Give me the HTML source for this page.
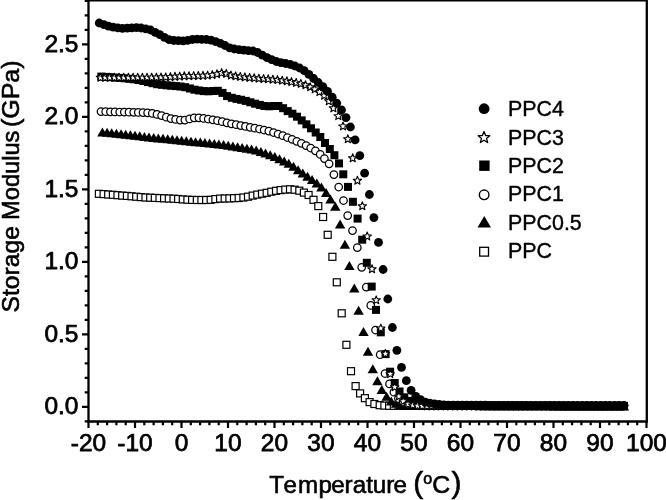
<!DOCTYPE html>
<html><head><meta charset="utf-8"><title>Storage Modulus vs Temperature</title>
<style>html,body{margin:0;padding:0;background:#fff}body{width:666px;height:500px;overflow:hidden}svg{display:block}</style>
</head><body>
<svg width="666" height="500" viewBox="0 0 666 500">
<rect width="666" height="500" fill="#fff"/>
<g fill="#fff" stroke="#000" stroke-width="1.2">
<rect x="95.4" y="190.3" width="7.0" height="7.0"/>
<rect x="100.1" y="190.6" width="7.0" height="7.0"/>
<rect x="104.7" y="191" width="7.0" height="7.0"/>
<rect x="109.4" y="191.3" width="7.0" height="7.0"/>
<rect x="114" y="191.7" width="7.0" height="7.0"/>
<rect x="118.7" y="192.1" width="7.0" height="7.0"/>
<rect x="123.4" y="192.4" width="7.0" height="7.0"/>
<rect x="128" y="192.8" width="7.0" height="7.0"/>
<rect x="132.7" y="193.2" width="7.0" height="7.0"/>
<rect x="137.3" y="193.6" width="7.0" height="7.0"/>
<rect x="142" y="194" width="7.0" height="7.0"/>
<rect x="146.7" y="194.2" width="7.0" height="7.0"/>
<rect x="151.3" y="194.4" width="7.0" height="7.0"/>
<rect x="156" y="194.6" width="7.0" height="7.0"/>
<rect x="160.6" y="194.8" width="7.0" height="7.0"/>
<rect x="165.3" y="195" width="7.0" height="7.0"/>
<rect x="170" y="195.2" width="7.0" height="7.0"/>
<rect x="174.6" y="195.5" width="7.0" height="7.0"/>
<rect x="179.3" y="195.9" width="7.0" height="7.0"/>
<rect x="183.9" y="196.2" width="7.0" height="7.0"/>
<rect x="188.6" y="196.4" width="7.0" height="7.0"/>
<rect x="193.3" y="196.5" width="7.0" height="7.0"/>
<rect x="197.9" y="196.5" width="7.0" height="7.0"/>
<rect x="202.6" y="196.5" width="7.0" height="7.0"/>
<rect x="207.2" y="196.3" width="7.0" height="7.0"/>
<rect x="211.9" y="195.6" width="7.0" height="7.0"/>
<rect x="216.6" y="195.1" width="7.0" height="7.0"/>
<rect x="221.2" y="195" width="7.0" height="7.0"/>
<rect x="225.9" y="194.9" width="7.0" height="7.0"/>
<rect x="230.5" y="194.7" width="7.0" height="7.0"/>
<rect x="235.2" y="194.5" width="7.0" height="7.0"/>
<rect x="239.9" y="194" width="7.0" height="7.0"/>
<rect x="244.5" y="193.2" width="7.0" height="7.0"/>
<rect x="249.2" y="192.1" width="7.0" height="7.0"/>
<rect x="253.8" y="191.1" width="7.0" height="7.0"/>
<rect x="258.5" y="190.2" width="7.0" height="7.0"/>
<rect x="263.2" y="189.3" width="7.0" height="7.0"/>
<rect x="267.8" y="188.2" width="7.0" height="7.0"/>
<rect x="272.5" y="187.3" width="7.0" height="7.0"/>
<rect x="277.1" y="186.6" width="7.0" height="7.0"/>
<rect x="281.8" y="186.1" width="7.0" height="7.0"/>
<rect x="286.5" y="185.8" width="7.0" height="7.0"/>
<rect x="291.1" y="186.2" width="7.0" height="7.0"/>
<rect x="295.8" y="187.2" width="7.0" height="7.0"/>
<rect x="300.4" y="189.1" width="7.0" height="7.0"/>
<rect x="305.1" y="191.5" width="7.0" height="7.0"/>
<rect x="310" y="196.3" width="7.0" height="7.0"/>
<rect x="314.8" y="202.6" width="7.0" height="7.0"/>
<rect x="319.6" y="213.5" width="7.0" height="7.0"/>
<rect x="324.2" y="231.3" width="7.0" height="7.0"/>
<rect x="328.9" y="253.3" width="7.0" height="7.0"/>
<rect x="333.3" y="278.8" width="7.0" height="7.0"/>
<rect x="338.2" y="309.8" width="7.0" height="7.0"/>
<rect x="342.9" y="341.3" width="7.0" height="7.0"/>
<rect x="347.5" y="367.7" width="7.0" height="7.0"/>
<rect x="352.1" y="382.6" width="7.0" height="7.0"/>
<rect x="356.6" y="389.9" width="7.0" height="7.0"/>
<rect x="361.4" y="394.7" width="7.0" height="7.0"/>
<rect x="366.1" y="398.6" width="7.0" height="7.0"/>
<rect x="370.9" y="400.5" width="7.0" height="7.0"/>
<rect x="376.2" y="401.7" width="7.0" height="7.0"/>
<rect x="380.9" y="402.1" width="7.0" height="7.0"/>
<rect x="385.6" y="402.3" width="7.0" height="7.0"/>
<rect x="390.3" y="402.3" width="7.0" height="7.0"/>
<rect x="395" y="402.3" width="7.0" height="7.0"/>
<rect x="399.7" y="402.3" width="7.0" height="7.0"/>
<rect x="404.4" y="402.3" width="7.0" height="7.0"/>
<rect x="409.1" y="402.3" width="7.0" height="7.0"/>
<rect x="413.8" y="402.4" width="7.0" height="7.0"/>
<rect x="418.5" y="402.4" width="7.0" height="7.0"/>
<rect x="423.2" y="402.4" width="7.0" height="7.0"/>
<rect x="427.9" y="402.4" width="7.0" height="7.0"/>
<rect x="432.6" y="402.4" width="7.0" height="7.0"/>
<rect x="437.2" y="402.4" width="7.0" height="7.0"/>
<rect x="441.9" y="402.4" width="7.0" height="7.0"/>
<rect x="446.6" y="402.4" width="7.0" height="7.0"/>
<rect x="451.3" y="402.4" width="7.0" height="7.0"/>
<rect x="456" y="402.4" width="7.0" height="7.0"/>
<rect x="460.7" y="402.4" width="7.0" height="7.0"/>
<rect x="465.4" y="402.4" width="7.0" height="7.0"/>
<rect x="470.1" y="402.4" width="7.0" height="7.0"/>
<rect x="474.8" y="402.4" width="7.0" height="7.0"/>
<rect x="479.5" y="402.4" width="7.0" height="7.0"/>
<rect x="484.2" y="402.4" width="7.0" height="7.0"/>
<rect x="488.9" y="402.5" width="7.0" height="7.0"/>
<rect x="493.6" y="402.5" width="7.0" height="7.0"/>
<rect x="498.3" y="402.5" width="7.0" height="7.0"/>
<rect x="503" y="402.5" width="7.0" height="7.0"/>
<rect x="507.7" y="402.5" width="7.0" height="7.0"/>
<rect x="512.4" y="402.5" width="7.0" height="7.0"/>
<rect x="517.1" y="402.5" width="7.0" height="7.0"/>
<rect x="521.8" y="402.5" width="7.0" height="7.0"/>
<rect x="526.5" y="402.5" width="7.0" height="7.0"/>
<rect x="531.2" y="402.5" width="7.0" height="7.0"/>
<rect x="535.9" y="402.5" width="7.0" height="7.0"/>
<rect x="540.6" y="402.5" width="7.0" height="7.0"/>
<rect x="545.3" y="402.5" width="7.0" height="7.0"/>
<rect x="550" y="402.5" width="7.0" height="7.0"/>
<rect x="554.7" y="402.5" width="7.0" height="7.0"/>
<rect x="559.4" y="402.5" width="7.0" height="7.0"/>
<rect x="564" y="402.5" width="7.0" height="7.0"/>
<rect x="568.7" y="402.5" width="7.0" height="7.0"/>
<rect x="573.4" y="402.5" width="7.0" height="7.0"/>
<rect x="578.1" y="402.5" width="7.0" height="7.0"/>
<rect x="582.8" y="402.5" width="7.0" height="7.0"/>
<rect x="587.5" y="402.5" width="7.0" height="7.0"/>
<rect x="592.2" y="402.5" width="7.0" height="7.0"/>
<rect x="596.9" y="402.5" width="7.0" height="7.0"/>
<rect x="601.6" y="402.5" width="7.0" height="7.0"/>
<rect x="606.3" y="402.5" width="7.0" height="7.0"/>
<rect x="611" y="402.5" width="7.0" height="7.0"/>
<rect x="615.7" y="402.5" width="7.0" height="7.0"/>
<rect x="620.4" y="402.5" width="7.0" height="7.0"/>
</g>
<g fill="#000">
<path d="M102.4 127.5L107.6 136.5L97.2 136.5Z"/>
<path d="M107.1 127.8L112.3 136.8L101.9 136.8Z"/>
<path d="M111.7 128.2L116.9 137.2L106.5 137.2Z"/>
<path d="M116.4 128.7L121.6 137.7L111.2 137.7Z"/>
<path d="M121.1 129.2L126.3 138.2L115.9 138.2Z"/>
<path d="M125.7 129.7L130.9 138.7L120.5 138.7Z"/>
<path d="M130.4 130.2L135.6 139.2L125.2 139.2Z"/>
<path d="M135 130.8L140.2 139.8L129.8 139.8Z"/>
<path d="M139.7 131.3L144.9 140.3L134.5 140.3Z"/>
<path d="M144.4 131.9L149.6 140.9L139.2 140.9Z"/>
<path d="M149 132.4L154.2 141.4L143.8 141.4Z"/>
<path d="M153.7 132.9L158.9 141.9L148.5 141.9Z"/>
<path d="M158.3 133.4L163.5 142.4L153.1 142.4Z"/>
<path d="M163 133.8L168.2 142.8L157.8 142.8Z"/>
<path d="M167.7 134.3L172.9 143.3L162.5 143.3Z"/>
<path d="M172.3 134.7L177.5 143.7L167.1 143.7Z"/>
<path d="M177 135.2L182.2 144.2L171.8 144.2Z"/>
<path d="M181.6 135.7L186.8 144.7L176.4 144.7Z"/>
<path d="M186.3 136.2L191.5 145.2L181.1 145.2Z"/>
<path d="M191 136.7L196.2 145.7L185.8 145.7Z"/>
<path d="M195.6 137.2L200.8 146.2L190.4 146.2Z"/>
<path d="M200.3 137.6L205.5 146.6L195.1 146.6Z"/>
<path d="M204.9 138L210.1 147L199.7 147Z"/>
<path d="M209.6 138.4L214.8 147.4L204.4 147.4Z"/>
<path d="M214.3 138.9L219.5 147.9L209.1 147.9Z"/>
<path d="M218.9 139.4L224.1 148.4L213.7 148.4Z"/>
<path d="M223.6 140L228.8 149L218.4 149Z"/>
<path d="M228.2 140.8L233.4 149.8L223 149.8Z"/>
<path d="M232.9 141.6L238.1 150.6L227.7 150.6Z"/>
<path d="M237.6 142.2L242.8 151.2L232.4 151.2Z"/>
<path d="M242.2 142.9L247.4 151.9L237 151.9Z"/>
<path d="M246.9 143.7L252.1 152.7L241.7 152.7Z"/>
<path d="M251.5 144.6L256.7 153.6L246.3 153.6Z"/>
<path d="M256.2 145.6L261.4 154.6L251 154.6Z"/>
<path d="M260.9 147L266.1 156L255.7 156Z"/>
<path d="M265.5 148.5L270.7 157.5L260.3 157.5Z"/>
<path d="M270.2 150.2L275.4 159.2L265 159.2Z"/>
<path d="M274.8 152.1L280 161.1L269.6 161.1Z"/>
<path d="M279.5 154.2L284.7 163.2L274.3 163.2Z"/>
<path d="M284.2 156.4L289.4 165.4L279 165.4Z"/>
<path d="M288.8 158.8L294 167.8L283.6 167.8Z"/>
<path d="M293.5 161.8L298.7 170.8L288.3 170.8Z"/>
<path d="M298.1 165.2L303.3 174.2L292.9 174.2Z"/>
<path d="M302.8 168.6L308 177.6L297.6 177.6Z"/>
<path d="M307.5 171.7L312.7 180.7L302.3 180.7Z"/>
<path d="M312.1 175L317.3 184L306.9 184Z"/>
<path d="M316.8 178.5L322 187.5L311.6 187.5Z"/>
<path d="M321.4 182.5L326.6 191.5L316.2 191.5Z"/>
<path d="M326.1 188L331.3 197L320.9 197Z"/>
<path d="M330.5 194.5L335.7 203.5L325.3 203.5Z"/>
<path d="M335.3 201.8L340.5 210.8L330.1 210.8Z"/>
<path d="M340.1 219.5L345.3 228.5L334.9 228.5Z"/>
<path d="M344.9 239.7L350.1 248.7L339.7 248.7Z"/>
<path d="M349.4 261.1L354.6 270.1L344.2 270.1Z"/>
<path d="M354.3 283.4L359.5 292.4L349.1 292.4Z"/>
<path d="M358.6 305.7L363.8 314.7L353.4 314.7Z"/>
<path d="M363.5 327L368.7 336L358.3 336Z"/>
<path d="M368 346.8L373.2 355.8L362.8 355.8Z"/>
<path d="M372.8 364.2L378 373.2L367.6 373.2Z"/>
<path d="M377.4 376.2L382.6 385.2L372.2 385.2Z"/>
<path d="M381.8 385L387 394L376.6 394Z"/>
<path d="M386.6 391.8L391.8 400.8L381.4 400.8Z"/>
<path d="M391.2 396.4L396.4 405.4L386 405.4Z"/>
<path d="M396 398.8L401.2 407.8L390.8 407.8Z"/>
<path d="M400.7 400.1L405.9 409.1L395.5 409.1Z"/>
<path d="M405.3 400.7L410.5 409.7L400.1 409.7Z"/>
<path d="M410 400.7L415.2 409.7L404.8 409.7Z"/>
<path d="M414.6 400.8L419.8 409.8L409.4 409.8Z"/>
<path d="M419.3 400.8L424.5 409.8L414.1 409.8Z"/>
<path d="M423.9 400.8L429.1 409.8L418.7 409.8Z"/>
<path d="M428.6 400.9L433.8 409.9L423.4 409.9Z"/>
<path d="M433.2 400.9L438.4 409.9L428 409.9Z"/>
<path d="M437.9 400.9L443.1 409.9L432.7 409.9Z"/>
<path d="M442.5 401L447.7 410L437.3 410Z"/>
<path d="M447.2 401L452.4 410L442 410Z"/>
<path d="M451.8 401L457 410L446.6 410Z"/>
<path d="M456.5 401L461.7 410L451.3 410Z"/>
<path d="M461.1 401.1L466.3 410.1L455.9 410.1Z"/>
<path d="M465.8 401.1L471 410.1L460.6 410.1Z"/>
<path d="M470.4 401.1L475.6 410.1L465.2 410.1Z"/>
<path d="M475.1 401.1L480.3 410.1L469.9 410.1Z"/>
<path d="M479.7 401.2L484.9 410.2L474.5 410.2Z"/>
<path d="M484.4 401.2L489.6 410.2L479.2 410.2Z"/>
<path d="M489 401.2L494.2 410.2L483.8 410.2Z"/>
<path d="M493.7 401.2L498.9 410.2L488.5 410.2Z"/>
<path d="M498.3 401.2L503.5 410.2L493.1 410.2Z"/>
<path d="M503 401.2L508.2 410.2L497.8 410.2Z"/>
<path d="M507.6 401.3L512.8 410.3L502.4 410.3Z"/>
<path d="M512.3 401.3L517.5 410.3L507.1 410.3Z"/>
<path d="M516.9 401.3L522.1 410.3L511.7 410.3Z"/>
<path d="M521.6 401.3L526.8 410.3L516.4 410.3Z"/>
<path d="M526.2 401.3L531.4 410.3L521 410.3Z"/>
<path d="M530.9 401.3L536.1 410.3L525.7 410.3Z"/>
<path d="M535.5 401.3L540.7 410.3L530.3 410.3Z"/>
<path d="M540.2 401.3L545.4 410.3L535 410.3Z"/>
<path d="M544.8 401.3L550 410.3L539.6 410.3Z"/>
<path d="M549.5 401.3L554.7 410.3L544.3 410.3Z"/>
<path d="M554.1 401.4L559.3 410.4L548.9 410.4Z"/>
<path d="M558.8 401.4L564 410.4L553.6 410.4Z"/>
<path d="M563.4 401.4L568.6 410.4L558.2 410.4Z"/>
<path d="M568.1 401.4L573.3 410.4L562.9 410.4Z"/>
<path d="M572.7 401.4L577.9 410.4L567.5 410.4Z"/>
<path d="M577.4 401.4L582.6 410.4L572.2 410.4Z"/>
<path d="M582 401.4L587.2 410.4L576.8 410.4Z"/>
<path d="M586.7 401.4L591.9 410.4L581.5 410.4Z"/>
<path d="M591.3 401.4L596.5 410.4L586.1 410.4Z"/>
<path d="M596 401.4L601.2 410.4L590.8 410.4Z"/>
<path d="M600.6 401.4L605.8 410.4L595.4 410.4Z"/>
<path d="M605.3 401.4L610.5 410.4L600.1 410.4Z"/>
<path d="M609.9 401.4L615.1 410.4L604.7 410.4Z"/>
<path d="M614.6 401.4L619.8 410.4L609.4 410.4Z"/>
<path d="M619.2 401.4L624.4 410.4L614 410.4Z"/>
<path d="M623.9 401.4L629.1 410.4L618.7 410.4Z"/>
</g>
<g fill="#fff" stroke="#000" stroke-width="1.25">
<circle cx="101" cy="111.6" r="3.75"/>
<circle cx="105.7" cy="111.7" r="3.75"/>
<circle cx="110.4" cy="111.8" r="3.75"/>
<circle cx="115" cy="111.9" r="3.75"/>
<circle cx="119.7" cy="112" r="3.75"/>
<circle cx="124.3" cy="112.1" r="3.75"/>
<circle cx="129" cy="112.2" r="3.75"/>
<circle cx="133.7" cy="112.3" r="3.75"/>
<circle cx="138.3" cy="112.4" r="3.75"/>
<circle cx="143" cy="112.6" r="3.75"/>
<circle cx="147.6" cy="112.8" r="3.75"/>
<circle cx="152.3" cy="113.4" r="3.75"/>
<circle cx="157" cy="114.4" r="3.75"/>
<circle cx="161.6" cy="115.6" r="3.75"/>
<circle cx="166.3" cy="117.2" r="3.75"/>
<circle cx="170.9" cy="118.6" r="3.75"/>
<circle cx="175.6" cy="119.4" r="3.75"/>
<circle cx="180.3" cy="120.1" r="3.75"/>
<circle cx="184.9" cy="120.1" r="3.75"/>
<circle cx="189.6" cy="118.9" r="3.75"/>
<circle cx="194.2" cy="117.8" r="3.75"/>
<circle cx="198.9" cy="117.8" r="3.75"/>
<circle cx="203.6" cy="118.4" r="3.75"/>
<circle cx="208.2" cy="119" r="3.75"/>
<circle cx="212.9" cy="119.8" r="3.75"/>
<circle cx="217.5" cy="120.7" r="3.75"/>
<circle cx="222.2" cy="121.7" r="3.75"/>
<circle cx="226.9" cy="122.8" r="3.75"/>
<circle cx="231.5" cy="123.8" r="3.75"/>
<circle cx="236.2" cy="124.7" r="3.75"/>
<circle cx="240.8" cy="125.6" r="3.75"/>
<circle cx="245.5" cy="126.4" r="3.75"/>
<circle cx="250.2" cy="127.3" r="3.75"/>
<circle cx="254.8" cy="128.2" r="3.75"/>
<circle cx="259.5" cy="129" r="3.75"/>
<circle cx="264.1" cy="130" r="3.75"/>
<circle cx="268.8" cy="131.1" r="3.75"/>
<circle cx="273.5" cy="132.5" r="3.75"/>
<circle cx="278.1" cy="134" r="3.75"/>
<circle cx="282.8" cy="135.7" r="3.75"/>
<circle cx="287.4" cy="137.5" r="3.75"/>
<circle cx="292.1" cy="139.3" r="3.75"/>
<circle cx="296.8" cy="141.3" r="3.75"/>
<circle cx="301.4" cy="143.3" r="3.75"/>
<circle cx="306.1" cy="145.6" r="3.75"/>
<circle cx="310.7" cy="148" r="3.75"/>
<circle cx="315.4" cy="150.8" r="3.75"/>
<circle cx="320.2" cy="154.4" r="3.75"/>
<circle cx="324.4" cy="158.6" r="3.75"/>
<circle cx="329.1" cy="163.8" r="3.75"/>
<circle cx="333.9" cy="174.6" r="3.75"/>
<circle cx="338.7" cy="187" r="3.75"/>
<circle cx="343.5" cy="200.5" r="3.75"/>
<circle cx="347.7" cy="215.6" r="3.75"/>
<circle cx="352.5" cy="230.6" r="3.75"/>
<circle cx="357.3" cy="247.6" r="3.75"/>
<circle cx="361.7" cy="267.3" r="3.75"/>
<circle cx="366.3" cy="287.1" r="3.75"/>
<circle cx="370.8" cy="305.4" r="3.75"/>
<circle cx="375.5" cy="330" r="3.75"/>
<circle cx="380.2" cy="354.7" r="3.75"/>
<circle cx="385" cy="373.5" r="3.75"/>
<circle cx="389.5" cy="383.9" r="3.75"/>
<circle cx="393.9" cy="392.2" r="3.75"/>
<circle cx="398.4" cy="398.5" r="3.75"/>
<circle cx="403.2" cy="402.1" r="3.75"/>
<circle cx="407.9" cy="404" r="3.75"/>
<circle cx="412.6" cy="404.9" r="3.75"/>
<circle cx="417.3" cy="405.4" r="3.75"/>
<circle cx="422" cy="405.5" r="3.75"/>
<circle cx="426.7" cy="405.5" r="3.75"/>
<circle cx="431.4" cy="405.6" r="3.75"/>
<circle cx="436.1" cy="405.6" r="3.75"/>
<circle cx="440.8" cy="405.6" r="3.75"/>
<circle cx="445.5" cy="405.6" r="3.75"/>
<circle cx="450.2" cy="405.6" r="3.75"/>
<circle cx="454.9" cy="405.7" r="3.75"/>
<circle cx="459.5" cy="405.7" r="3.75"/>
<circle cx="464.2" cy="405.7" r="3.75"/>
<circle cx="468.9" cy="405.7" r="3.75"/>
<circle cx="473.6" cy="405.7" r="3.75"/>
<circle cx="478.3" cy="405.7" r="3.75"/>
<circle cx="483" cy="405.7" r="3.75"/>
<circle cx="487.7" cy="405.8" r="3.75"/>
<circle cx="492.4" cy="405.8" r="3.75"/>
<circle cx="497.1" cy="405.8" r="3.75"/>
<circle cx="501.8" cy="405.8" r="3.75"/>
<circle cx="506.5" cy="405.8" r="3.75"/>
<circle cx="511.2" cy="405.8" r="3.75"/>
<circle cx="515.9" cy="405.8" r="3.75"/>
<circle cx="520.6" cy="405.8" r="3.75"/>
<circle cx="525.3" cy="405.8" r="3.75"/>
<circle cx="530" cy="405.8" r="3.75"/>
<circle cx="534.7" cy="405.8" r="3.75"/>
<circle cx="539.4" cy="405.9" r="3.75"/>
<circle cx="544.1" cy="405.9" r="3.75"/>
<circle cx="548.8" cy="405.9" r="3.75"/>
<circle cx="553.5" cy="405.9" r="3.75"/>
<circle cx="558.2" cy="405.9" r="3.75"/>
<circle cx="562.9" cy="405.9" r="3.75"/>
<circle cx="567.6" cy="405.9" r="3.75"/>
<circle cx="572.2" cy="405.9" r="3.75"/>
<circle cx="576.9" cy="405.9" r="3.75"/>
<circle cx="581.6" cy="405.9" r="3.75"/>
<circle cx="586.3" cy="405.9" r="3.75"/>
<circle cx="591" cy="405.9" r="3.75"/>
<circle cx="595.7" cy="405.9" r="3.75"/>
<circle cx="600.4" cy="405.9" r="3.75"/>
<circle cx="605.1" cy="405.9" r="3.75"/>
<circle cx="609.8" cy="405.9" r="3.75"/>
<circle cx="614.5" cy="405.9" r="3.75"/>
<circle cx="619.2" cy="405.9" r="3.75"/>
<circle cx="623.9" cy="405.9" r="3.75"/>
</g>
<g fill="#000">
<rect x="97.3" y="72.6" width="8.0" height="8.0"/>
<rect x="102" y="72.9" width="8.0" height="8.0"/>
<rect x="106.6" y="73.2" width="8.0" height="8.0"/>
<rect x="111.3" y="73.6" width="8.0" height="8.0"/>
<rect x="116" y="73.9" width="8.0" height="8.0"/>
<rect x="120.6" y="74.3" width="8.0" height="8.0"/>
<rect x="125.3" y="74.8" width="8.0" height="8.0"/>
<rect x="129.9" y="75.3" width="8.0" height="8.0"/>
<rect x="134.6" y="76" width="8.0" height="8.0"/>
<rect x="139.3" y="77" width="8.0" height="8.0"/>
<rect x="143.9" y="78.1" width="8.0" height="8.0"/>
<rect x="148.6" y="79.2" width="8.0" height="8.0"/>
<rect x="153.2" y="80.2" width="8.0" height="8.0"/>
<rect x="157.9" y="80.8" width="8.0" height="8.0"/>
<rect x="162.6" y="81.3" width="8.0" height="8.0"/>
<rect x="167.2" y="81.7" width="8.0" height="8.0"/>
<rect x="171.9" y="82.1" width="8.0" height="8.0"/>
<rect x="176.5" y="82.5" width="8.0" height="8.0"/>
<rect x="181.2" y="83.2" width="8.0" height="8.0"/>
<rect x="185.9" y="84.5" width="8.0" height="8.0"/>
<rect x="190.5" y="85.7" width="8.0" height="8.0"/>
<rect x="195.2" y="86.5" width="8.0" height="8.0"/>
<rect x="199.8" y="87.1" width="8.0" height="8.0"/>
<rect x="204.5" y="87.3" width="8.0" height="8.0"/>
<rect x="209.2" y="87" width="8.0" height="8.0"/>
<rect x="213.8" y="86.8" width="8.0" height="8.0"/>
<rect x="218.5" y="88.9" width="8.0" height="8.0"/>
<rect x="223.1" y="92.1" width="8.0" height="8.0"/>
<rect x="227.8" y="93.8" width="8.0" height="8.0"/>
<rect x="232.5" y="94.9" width="8.0" height="8.0"/>
<rect x="237.1" y="95.8" width="8.0" height="8.0"/>
<rect x="241.8" y="96.9" width="8.0" height="8.0"/>
<rect x="246.4" y="98.3" width="8.0" height="8.0"/>
<rect x="251.1" y="99.7" width="8.0" height="8.0"/>
<rect x="255.8" y="100.9" width="8.0" height="8.0"/>
<rect x="260.4" y="102" width="8.0" height="8.0"/>
<rect x="265.1" y="102.3" width="8.0" height="8.0"/>
<rect x="269.7" y="102" width="8.0" height="8.0"/>
<rect x="274.4" y="102" width="8.0" height="8.0"/>
<rect x="279.1" y="104.2" width="8.0" height="8.0"/>
<rect x="283.7" y="107.1" width="8.0" height="8.0"/>
<rect x="288.4" y="109.7" width="8.0" height="8.0"/>
<rect x="293" y="112.7" width="8.0" height="8.0"/>
<rect x="297.7" y="116.4" width="8.0" height="8.0"/>
<rect x="302.4" y="120.3" width="8.0" height="8.0"/>
<rect x="307" y="124.3" width="8.0" height="8.0"/>
<rect x="311.7" y="128.5" width="8.0" height="8.0"/>
<rect x="316.3" y="133" width="8.0" height="8.0"/>
<rect x="321" y="139" width="8.0" height="8.0"/>
<rect x="325.8" y="145" width="8.0" height="8.0"/>
<rect x="330.4" y="151.2" width="8.0" height="8.0"/>
<rect x="335" y="159.4" width="8.0" height="8.0"/>
<rect x="339.3" y="170.3" width="8.0" height="8.0"/>
<rect x="344" y="182.9" width="8.0" height="8.0"/>
<rect x="348.9" y="197.8" width="8.0" height="8.0"/>
<rect x="353.6" y="214.6" width="8.0" height="8.0"/>
<rect x="358.2" y="235.7" width="8.0" height="8.0"/>
<rect x="362.8" y="258.8" width="8.0" height="8.0"/>
<rect x="367.7" y="282.6" width="8.0" height="8.0"/>
<rect x="372" y="305.9" width="8.0" height="8.0"/>
<rect x="376.8" y="328.3" width="8.0" height="8.0"/>
<rect x="381.6" y="350.1" width="8.0" height="8.0"/>
<rect x="386.1" y="367.7" width="8.0" height="8.0"/>
<rect x="390.7" y="379" width="8.0" height="8.0"/>
<rect x="395.5" y="387.5" width="8.0" height="8.0"/>
<rect x="400.3" y="393.3" width="8.0" height="8.0"/>
<rect x="405" y="396.9" width="8.0" height="8.0"/>
<rect x="409.8" y="399.3" width="8.0" height="8.0"/>
<rect x="414.5" y="400.4" width="8.0" height="8.0"/>
<rect x="419.1" y="401.1" width="8.0" height="8.0"/>
<rect x="423.8" y="401.2" width="8.0" height="8.0"/>
<rect x="428.5" y="401.3" width="8.0" height="8.0"/>
<rect x="433.1" y="401.3" width="8.0" height="8.0"/>
<rect x="437.8" y="401.4" width="8.0" height="8.0"/>
<rect x="442.5" y="401.4" width="8.0" height="8.0"/>
<rect x="447.2" y="401.4" width="8.0" height="8.0"/>
<rect x="451.8" y="401.5" width="8.0" height="8.0"/>
<rect x="456.5" y="401.5" width="8.0" height="8.0"/>
<rect x="461.2" y="401.5" width="8.0" height="8.0"/>
<rect x="465.8" y="401.6" width="8.0" height="8.0"/>
<rect x="470.5" y="401.6" width="8.0" height="8.0"/>
<rect x="475.2" y="401.6" width="8.0" height="8.0"/>
<rect x="479.8" y="401.7" width="8.0" height="8.0"/>
<rect x="484.5" y="401.7" width="8.0" height="8.0"/>
<rect x="489.2" y="401.7" width="8.0" height="8.0"/>
<rect x="493.8" y="401.7" width="8.0" height="8.0"/>
<rect x="498.5" y="401.8" width="8.0" height="8.0"/>
<rect x="503.2" y="401.8" width="8.0" height="8.0"/>
<rect x="507.8" y="401.8" width="8.0" height="8.0"/>
<rect x="512.5" y="401.8" width="8.0" height="8.0"/>
<rect x="517.2" y="401.8" width="8.0" height="8.0"/>
<rect x="521.9" y="401.9" width="8.0" height="8.0"/>
<rect x="526.5" y="401.9" width="8.0" height="8.0"/>
<rect x="531.2" y="401.9" width="8.0" height="8.0"/>
<rect x="535.9" y="401.9" width="8.0" height="8.0"/>
<rect x="540.5" y="401.9" width="8.0" height="8.0"/>
<rect x="545.2" y="401.9" width="8.0" height="8.0"/>
<rect x="549.9" y="401.9" width="8.0" height="8.0"/>
<rect x="554.5" y="401.9" width="8.0" height="8.0"/>
<rect x="559.2" y="401.9" width="8.0" height="8.0"/>
<rect x="563.9" y="402" width="8.0" height="8.0"/>
<rect x="568.5" y="402" width="8.0" height="8.0"/>
<rect x="573.2" y="402" width="8.0" height="8.0"/>
<rect x="577.9" y="402" width="8.0" height="8.0"/>
<rect x="582.5" y="402" width="8.0" height="8.0"/>
<rect x="587.2" y="402" width="8.0" height="8.0"/>
<rect x="591.9" y="402" width="8.0" height="8.0"/>
<rect x="596.6" y="402" width="8.0" height="8.0"/>
<rect x="601.2" y="402" width="8.0" height="8.0"/>
<rect x="605.9" y="402" width="8.0" height="8.0"/>
<rect x="610.6" y="402" width="8.0" height="8.0"/>
<rect x="615.2" y="402" width="8.0" height="8.0"/>
<rect x="619.9" y="402" width="8.0" height="8.0"/>
</g>
<g fill="#fff" stroke="#000" stroke-width="1.1" stroke-linejoin="round">
<path d="M100.5 73.2L101.6 76.1L104.6 76.3L102.3 78.2L103 81.2L100.5 79.6L97.9 81.2L98.7 78.2L96.3 76.3L99.3 76.1Z"/>
<path d="M105.1 73.2L106.2 76.1L109.3 76.3L106.9 78.2L107.7 81.2L105.1 79.6L102.5 81.2L103.3 78.2L100.9 76.3L104 76.1Z"/>
<path d="M109.8 73.2L110.9 76.1L114 76.3L111.6 78.2L112.4 81.2L109.8 79.6L107.2 81.2L108 78.2L105.6 76.3L108.7 76.1Z"/>
<path d="M114.4 73.2L115.6 76.1L118.6 76.3L116.2 78.2L117 81.2L114.4 79.6L111.9 81.2L112.6 78.2L110.3 76.3L113.3 76.1Z"/>
<path d="M119.1 73.2L120.2 76.1L123.3 76.3L120.9 78.2L121.7 81.2L119.1 79.6L116.5 81.2L117.3 78.2L114.9 76.3L118 76.1Z"/>
<path d="M123.8 73.2L124.9 76.1L127.9 76.3L125.6 78.2L126.3 81.2L123.8 79.6L121.2 81.2L122 78.2L119.6 76.3L122.6 76.1Z"/>
<path d="M128.4 73.2L129.5 76.1L132.6 76.3L130.2 78.2L131 81.2L128.4 79.6L125.8 81.2L126.6 78.2L124.2 76.3L127.3 76.1Z"/>
<path d="M133.1 73.2L134.2 76.1L137.3 76.3L134.9 78.2L135.7 81.2L133.1 79.6L130.5 81.2L131.3 78.2L128.9 76.3L132 76.1Z"/>
<path d="M137.7 73.2L138.9 76.1L141.9 76.3L139.5 78.2L140.3 81.2L137.7 79.5L135.2 81.2L135.9 78.2L133.6 76.3L136.6 76.1Z"/>
<path d="M142.4 73.2L143.5 76.1L146.6 76.3L144.2 78.2L145 81.2L142.4 79.5L139.8 81.2L140.6 78.2L138.2 76.3L141.3 76.1Z"/>
<path d="M147.1 73.2L148.2 76.1L151.2 76.2L148.9 78.2L149.6 81.2L147.1 79.5L144.5 81.2L145.3 78.2L142.9 76.2L145.9 76.1Z"/>
<path d="M151.7 73.2L152.8 76L155.9 76.2L153.5 78.1L154.3 81.1L151.7 79.5L149.1 81.1L149.9 78.1L147.5 76.2L150.6 76Z"/>
<path d="M156.4 73.1L157.5 76L160.6 76.1L158.2 78.1L159 81.1L156.4 79.4L153.8 81.1L154.6 78.1L152.2 76.1L155.3 76Z"/>
<path d="M161 73L162.2 75.9L165.2 76.1L162.8 78L163.6 81L161 79.3L158.5 81L159.2 78L156.9 76.1L159.9 75.9Z"/>
<path d="M165.7 72.9L166.8 75.7L169.9 75.9L167.5 77.9L168.3 80.8L165.7 79.2L163.1 80.8L163.9 77.9L161.5 75.9L164.6 75.7Z"/>
<path d="M170.4 72.6L171.5 75.5L174.5 75.7L172.2 77.6L172.9 80.6L170.4 78.9L167.8 80.6L168.6 77.6L166.2 75.7L169.2 75.5Z"/>
<path d="M175 72.3L176.1 75.2L179.2 75.4L176.8 77.3L177.6 80.3L175 78.6L172.4 80.3L173.2 77.3L170.8 75.4L173.9 75.2Z"/>
<path d="M179.7 72.1L180.8 74.9L183.9 75.1L181.5 77L182.3 80L179.7 78.4L177.1 80L177.9 77L175.5 75.1L178.6 74.9Z"/>
<path d="M184.3 71.8L185.5 74.7L188.5 74.9L186.1 76.8L186.9 79.8L184.3 78.1L181.8 79.8L182.5 76.8L180.2 74.9L183.2 74.7Z"/>
<path d="M189 71.7L190.1 74.5L193.2 74.7L190.8 76.7L191.6 79.6L189 78L186.4 79.6L187.2 76.7L184.8 74.7L187.9 74.5Z"/>
<path d="M193.7 71.6L194.8 74.4L197.8 74.6L195.5 76.6L196.2 79.5L193.7 77.9L191.1 79.5L191.9 76.6L189.5 74.6L192.5 74.4Z"/>
<path d="M198.3 71.4L199.4 74.3L202.5 74.5L200.1 76.4L200.9 79.4L198.3 77.7L195.7 79.4L196.5 76.4L194.1 74.5L197.2 74.3Z"/>
<path d="M203 71.3L204.1 74.2L207.2 74.3L204.8 76.3L205.6 79.2L203 77.6L200.4 79.2L201.2 76.3L198.8 74.3L201.9 74.2Z"/>
<path d="M207.6 71.1L208.8 73.9L211.8 74.1L209.4 76.1L210.2 79L207.6 77.4L205.1 79L205.8 76.1L203.5 74.1L206.5 73.9Z"/>
<path d="M212.3 70.6L213.4 73.5L216.5 73.7L214.1 75.6L214.9 78.6L212.3 76.9L209.7 78.6L210.5 75.6L208.1 73.7L211.2 73.5Z"/>
<path d="M217 69.8L218.1 72.7L221.1 72.9L218.8 74.8L219.5 77.8L217 76.1L214.4 77.8L215.2 74.8L212.8 72.9L215.8 72.7Z"/>
<path d="M221.6 68.6L222.7 71.5L225.8 71.6L223.4 73.6L224.2 76.6L221.6 74.9L219 76.6L219.8 73.6L217.4 71.6L220.5 71.5Z"/>
<path d="M226.3 69.5L227.4 72.3L230.5 72.5L228.1 74.5L228.9 77.4L226.3 75.8L223.7 77.4L224.5 74.5L222.1 72.5L225.2 72.3Z"/>
<path d="M230.9 71L232.1 73.9L235.1 74L232.7 76L233.5 79L230.9 77.3L228.4 79L229.1 76L226.8 74L229.8 73.9Z"/>
<path d="M235.6 71.9L236.7 74.7L239.8 74.9L237.4 76.9L238.2 79.8L235.6 78.2L233 79.8L233.8 76.9L231.4 74.9L234.5 74.7Z"/>
<path d="M240.3 72.5L241.4 75.3L244.4 75.5L242.1 77.5L242.8 80.4L240.3 78.8L237.7 80.4L238.5 77.5L236.1 75.5L239.1 75.3Z"/>
<path d="M244.9 72.9L246 75.8L249.1 76L246.7 77.9L247.5 80.9L244.9 79.2L242.3 80.9L243.1 77.9L240.7 76L243.8 75.8Z"/>
<path d="M249.6 73.4L250.7 76.2L253.8 76.4L251.4 78.3L252.2 81.3L249.6 79.7L247 81.3L247.8 78.3L245.4 76.4L248.5 76.2Z"/>
<path d="M254.2 73.8L255.4 76.6L258.4 76.8L256 78.8L256.8 81.7L254.2 80.1L251.7 81.7L252.4 78.8L250.1 76.8L253.1 76.6Z"/>
<path d="M258.9 74.2L260 77L263.1 77.2L260.7 79.1L261.5 82.1L258.9 80.5L256.3 82.1L257.1 79.1L254.7 77.2L257.8 77Z"/>
<path d="M263.6 74.5L264.7 77.4L267.7 77.5L265.4 79.5L266.1 82.5L263.6 80.8L261 82.5L261.8 79.5L259.4 77.5L262.4 77.4Z"/>
<path d="M268.2 74.8L269.3 77.7L272.4 77.9L270 79.8L270.8 82.8L268.2 81.1L265.6 82.8L266.4 79.8L264 77.9L267.1 77.7Z"/>
<path d="M272.9 75.2L274 78L277.1 78.2L274.7 80.2L275.5 83.1L272.9 81.5L270.3 83.1L271.1 80.2L268.7 78.2L271.8 78Z"/>
<path d="M277.5 75.6L278.7 78.5L281.7 78.6L279.3 80.6L280.1 83.6L277.5 81.9L275 83.6L275.7 80.6L273.4 78.6L276.4 78.5Z"/>
<path d="M282.2 76.2L283.3 79L286.4 79.2L284 81.1L284.8 84.1L282.2 82.5L279.6 84.1L280.4 81.1L278 79.2L281.1 79Z"/>
<path d="M286.9 76.8L288 79.7L291 79.9L288.7 81.8L289.4 84.8L286.9 83.1L284.3 84.8L285.1 81.8L282.7 79.9L285.7 79.7Z"/>
<path d="M291.5 77.6L292.6 80.5L295.7 80.6L293.3 82.6L294.1 85.6L291.5 83.9L288.9 85.6L289.7 82.6L287.3 80.6L290.4 80.5Z"/>
<path d="M296.2 78.4L297.3 81.3L300.4 81.5L298 83.4L298.8 86.4L296.2 84.7L293.6 86.4L294.4 83.4L292 81.5L295.1 81.3Z"/>
<path d="M300.8 79.5L302 82.3L305 82.5L302.6 84.4L303.4 87.4L300.8 85.8L298.3 87.4L299 84.4L296.7 82.5L299.7 82.3Z"/>
<path d="M305.5 80.8L306.6 83.7L309.7 83.9L307.3 85.8L308.1 88.8L305.5 87.1L302.9 88.8L303.7 85.8L301.3 83.9L304.4 83.7Z"/>
<path d="M310.2 82.7L311.3 85.6L314.3 85.7L312 87.7L312.7 90.7L310.2 89L307.6 90.7L308.4 87.7L306 85.7L309 85.6Z"/>
<path d="M314.8 85L315.9 87.8L319 88L316.6 90L317.4 92.9L314.8 91.3L312.2 92.9L313 90L310.6 88L313.7 87.8Z"/>
<path d="M319.5 87.7L320.6 90.5L323.7 90.7L321.3 92.7L322.1 95.6L319.5 94L316.9 95.6L317.7 92.7L315.3 90.7L318.4 90.5Z"/>
<path d="M324.1 91.2L325.3 94.1L328.3 94.2L325.9 96.2L326.7 99.2L324.1 97.5L321.6 99.2L322.3 96.2L320 94.2L323 94.1Z"/>
<path d="M328.8 96.8L329.9 99.7L333 99.9L330.6 101.8L331.4 104.8L328.8 103.2L326.2 104.8L327 101.8L324.6 99.9L327.7 99.7Z"/>
<path d="M333.4 103.8L334.5 106.7L337.6 106.9L335.2 108.8L336 111.8L333.4 110.2L330.8 111.8L331.6 108.8L329.2 106.9L332.3 106.7Z"/>
<path d="M338.3 111.6L339.4 114.5L342.5 114.7L340.1 116.6L340.9 119.6L338.3 118L335.7 119.6L336.5 116.6L334.1 114.7L337.2 114.5Z"/>
<path d="M343 122L344.1 124.8L347.2 125L344.8 126.9L345.6 129.9L343 128.2L340.4 129.9L341.2 126.9L338.8 125L341.9 124.8Z"/>
<path d="M347.8 134.7L348.9 137.6L352 137.8L349.6 139.7L350.4 142.7L347.8 141L345.2 142.7L346 139.7L343.6 137.8L346.7 137.6Z"/>
<path d="M352.7 153.8L353.8 156.7L356.9 156.9L354.5 158.8L355.3 161.8L352.7 160.2L350.1 161.8L350.9 158.8L348.5 156.9L351.6 156.7Z"/>
<path d="M357.4 176.2L358.5 179.1L361.6 179.3L359.2 181.2L360 184.2L357.4 182.5L354.8 184.2L355.6 181.2L353.2 179.3L356.3 179.1Z"/>
<path d="M362.3 201.7L363.4 204.6L366.5 204.8L364.1 206.7L364.9 209.7L362.3 208L359.7 209.7L360.5 206.7L358.1 204.8L361.2 204.6Z"/>
<path d="M367.2 232L368.3 234.9L371.4 235.1L369 237L369.8 240L367.2 238.3L364.6 240L365.4 237L363 235.1L366.1 234.9Z"/>
<path d="M372 264.8L373.1 267.6L376.2 267.8L373.8 269.7L374.6 272.7L372 271L369.4 272.7L370.2 269.7L367.8 267.8L370.9 267.6Z"/>
<path d="M376.2 295.9L377.3 298.7L380.4 298.9L378 300.8L378.8 303.8L376.2 302.1L373.6 303.8L374.4 300.8L372 298.9L375.1 298.7Z"/>
<path d="M380.8 324.1L381.9 326.9L385 327.1L382.6 329L383.4 332L380.8 330.3L378.2 332L379 329L376.6 327.1L379.7 326.9Z"/>
<path d="M385.4 349.4L386.5 352.3L389.6 352.5L387.2 354.4L388 357.4L385.4 355.7L382.8 357.4L383.6 354.4L381.2 352.5L384.3 352.3Z"/>
<path d="M390.2 369.7L391.3 372.5L394.4 372.7L392 374.6L392.8 377.6L390.2 375.9L387.6 377.6L388.4 374.6L386 372.7L389.1 372.5Z"/>
<path d="M394.7 382.8L395.8 385.6L398.9 385.8L396.5 387.7L397.3 390.7L394.7 389L392.1 390.7L392.9 387.7L390.5 385.8L393.6 385.6Z"/>
<path d="M398.9 392.1L400 394.9L403.1 395.1L400.7 397L401.5 400L398.9 398.3L396.3 400L397.1 397L394.7 395.1L397.8 394.9Z"/>
<path d="M403.2 396.9L404.3 399.8L407.4 400L405 401.9L405.8 404.9L403.2 403.2L400.6 404.9L401.4 401.9L399 400L402.1 399.8Z"/>
<path d="M408 399.9L409.1 402.7L412.2 402.9L409.8 404.8L410.6 407.8L408 406.1L405.4 407.8L406.2 404.8L403.8 402.9L406.9 402.7Z"/>
<path d="M412.8 401.1L413.9 403.9L417 404.1L414.6 406L415.4 409L412.8 407.3L410.2 409L411 406L408.6 404.1L411.7 403.9Z"/>
<path d="M417.5 401.4L418.6 404.3L421.7 404.5L419.3 406.4L420.1 409.4L417.5 407.7L414.9 409.4L415.7 406.4L413.3 404.5L416.4 404.3Z"/>
<path d="M422.2 401.7L423.3 404.5L426.4 404.7L424 406.7L424.8 409.6L422.2 408L419.6 409.6L420.4 406.7L418 404.7L421.1 404.5Z"/>
<path d="M426.9 401.8L428 404.7L431.1 404.9L428.7 406.8L429.5 409.8L426.9 408.1L424.3 409.8L425.1 406.8L422.7 404.9L425.8 404.7Z"/>
<path d="M431.6 401.9L432.7 404.7L435.7 404.9L433.4 406.8L434.2 409.8L431.6 408.2L429 409.8L429.8 406.8L427.4 404.9L430.4 404.7Z"/>
<path d="M436.3 401.9L437.4 404.7L440.4 404.9L438.1 406.9L438.8 409.8L436.3 408.2L433.7 409.8L434.4 406.9L432.1 404.9L435.1 404.7Z"/>
<path d="M440.9 401.9L442.1 404.7L445.1 404.9L442.8 406.9L443.5 409.8L440.9 408.2L438.4 409.8L439.1 406.9L436.8 404.9L439.8 404.7Z"/>
<path d="M445.6 401.9L446.8 404.8L449.8 404.9L447.4 406.9L448.2 409.8L445.6 408.2L443.1 409.8L443.8 406.9L441.5 404.9L444.5 404.8Z"/>
<path d="M450.3 401.9L451.4 404.8L454.5 404.9L452.1 406.9L452.9 409.9L450.3 408.2L447.7 409.9L448.5 406.9L446.1 404.9L449.2 404.8Z"/>
<path d="M455 401.9L456.1 404.8L459.2 404.9L456.8 406.9L457.6 409.9L455 408.2L452.4 409.9L453.2 406.9L450.8 404.9L453.9 404.8Z"/>
<path d="M459.7 401.9L460.8 404.8L463.9 405L461.5 406.9L462.3 409.9L459.7 408.2L457.1 409.9L457.9 406.9L455.5 405L458.6 404.8Z"/>
<path d="M464.4 401.9L465.5 404.8L468.6 405L466.2 406.9L467 409.9L464.4 408.2L461.8 409.9L462.6 406.9L460.2 405L463.3 404.8Z"/>
<path d="M469.1 401.9L470.2 404.8L473.3 405L470.9 406.9L471.7 409.9L469.1 408.2L466.5 409.9L467.3 406.9L464.9 405L468 404.8Z"/>
<path d="M473.8 401.9L474.9 404.8L478 405L475.6 406.9L476.4 409.9L473.8 408.2L471.2 409.9L472 406.9L469.6 405L472.7 404.8Z"/>
<path d="M478.5 402L479.6 404.8L482.7 405L480.3 406.9L481.1 409.9L478.5 408.3L475.9 409.9L476.7 406.9L474.3 405L477.4 404.8Z"/>
<path d="M483.2 402L484.3 404.8L487.4 405L485 406.9L485.8 409.9L483.2 408.3L480.6 409.9L481.4 406.9L479 405L482 404.8Z"/>
<path d="M487.9 402L489 404.8L492 405L489.7 407L490.4 409.9L487.9 408.3L485.3 409.9L486.1 407L483.7 405L486.7 404.8Z"/>
<path d="M492.5 402L493.7 404.8L496.7 405L494.4 407L495.1 409.9L492.5 408.3L490 409.9L490.7 407L488.4 405L491.4 404.8Z"/>
<path d="M497.2 402L498.4 404.8L501.4 405L499 407L499.8 409.9L497.2 408.3L494.7 409.9L495.4 407L493.1 405L496.1 404.8Z"/>
<path d="M501.9 402L503 404.8L506.1 405L503.7 407L504.5 409.9L501.9 408.3L499.3 409.9L500.1 407L497.7 405L500.8 404.8Z"/>
<path d="M506.6 402L507.7 404.9L510.8 405L508.4 407L509.2 409.9L506.6 408.3L504 409.9L504.8 407L502.4 405L505.5 404.9Z"/>
<path d="M511.3 402L512.4 404.9L515.5 405L513.1 407L513.9 410L511.3 408.3L508.7 410L509.5 407L507.1 405L510.2 404.9Z"/>
<path d="M516 402L517.1 404.9L520.2 405L517.8 407L518.6 410L516 408.3L513.4 410L514.2 407L511.8 405L514.9 404.9Z"/>
<path d="M520.7 402L521.8 404.9L524.9 405L522.5 407L523.3 410L520.7 408.3L518.1 410L518.9 407L516.5 405L519.6 404.9Z"/>
<path d="M525.4 402L526.5 404.9L529.6 405L527.2 407L528 410L525.4 408.3L522.8 410L523.6 407L521.2 405L524.3 404.9Z"/>
<path d="M530.1 402L531.2 404.9L534.3 405.1L531.9 407L532.7 410L530.1 408.3L527.5 410L528.3 407L525.9 405.1L529 404.9Z"/>
<path d="M534.8 402L535.9 404.9L539 405.1L536.6 407L537.4 410L534.8 408.3L532.2 410L533 407L530.6 405.1L533.7 404.9Z"/>
<path d="M539.5 402L540.6 404.9L543.6 405.1L541.3 407L542 410L539.5 408.3L536.9 410L537.7 407L535.3 405.1L538.3 404.9Z"/>
<path d="M544.2 402L545.3 404.9L548.3 405.1L546 407L546.7 410L544.2 408.3L541.6 410L542.3 407L540 405.1L543 404.9Z"/>
<path d="M548.8 402L550 404.9L553 405.1L550.6 407L551.4 410L548.8 408.3L546.3 410L547 407L544.7 405.1L547.7 404.9Z"/>
<path d="M553.5 402L554.7 404.9L557.7 405.1L555.3 407L556.1 410L553.5 408.3L550.9 410L551.7 407L549.3 405.1L552.4 404.9Z"/>
<path d="M558.2 402L559.3 404.9L562.4 405.1L560 407L560.8 410L558.2 408.3L555.6 410L556.4 407L554 405.1L557.1 404.9Z"/>
<path d="M562.9 402L564 404.9L567.1 405.1L564.7 407L565.5 410L562.9 408.3L560.3 410L561.1 407L558.7 405.1L561.8 404.9Z"/>
<path d="M567.6 402L568.7 404.9L571.8 405.1L569.4 407L570.2 410L567.6 408.3L565 410L565.8 407L563.4 405.1L566.5 404.9Z"/>
<path d="M572.3 402L573.4 404.9L576.5 405.1L574.1 407L574.9 410L572.3 408.3L569.7 410L570.5 407L568.1 405.1L571.2 404.9Z"/>
<path d="M577 402L578.1 404.9L581.2 405.1L578.8 407L579.6 410L577 408.3L574.4 410L575.2 407L572.8 405.1L575.9 404.9Z"/>
<path d="M581.7 402L582.8 404.9L585.9 405.1L583.5 407L584.3 410L581.7 408.3L579.1 410L579.9 407L577.5 405.1L580.6 404.9Z"/>
<path d="M586.4 402L587.5 404.9L590.6 405.1L588.2 407L589 410L586.4 408.3L583.8 410L584.6 407L582.2 405.1L585.3 404.9Z"/>
<path d="M591.1 402L592.2 404.9L595.2 405.1L592.9 407L593.6 410L591.1 408.3L588.5 410L589.3 407L586.9 405.1L589.9 404.9Z"/>
<path d="M595.8 402L596.9 404.9L599.9 405.1L597.6 407L598.3 410L595.8 408.3L593.2 410L593.9 407L591.6 405.1L594.6 404.9Z"/>
<path d="M600.4 402L601.6 404.9L604.6 405.1L602.3 407L603 410L600.4 408.3L597.9 410L598.6 407L596.3 405.1L599.3 404.9Z"/>
<path d="M605.1 402L606.3 404.9L609.3 405.1L606.9 407L607.7 410L605.1 408.3L602.5 410L603.3 407L601 405.1L604 404.9Z"/>
<path d="M609.8 402L610.9 404.9L614 405.1L611.6 407L612.4 410L609.8 408.3L607.2 410L608 407L605.6 405.1L608.7 404.9Z"/>
<path d="M614.5 402L615.6 404.9L618.7 405.1L616.3 407L617.1 410L614.5 408.3L611.9 410L612.7 407L610.3 405.1L613.4 404.9Z"/>
<path d="M619.2 402L620.3 404.9L623.4 405.1L621 407L621.8 410L619.2 408.3L616.6 410L617.4 407L615 405.1L618.1 404.9Z"/>
<path d="M623.9 402L625 404.9L628.1 405.1L625.7 407L626.5 410L623.9 408.3L621.3 410L622.1 407L619.7 405.1L622.8 404.9Z"/>
</g>
<g fill="#000">
<circle cx="99.2" cy="23" r="4.4"/>
<circle cx="103.9" cy="24.7" r="4.4"/>
<circle cx="108.5" cy="26.2" r="4.4"/>
<circle cx="113.2" cy="27.1" r="4.4"/>
<circle cx="117.8" cy="27.8" r="4.4"/>
<circle cx="122.5" cy="28.3" r="4.4"/>
<circle cx="127.2" cy="28.2" r="4.4"/>
<circle cx="131.8" cy="27.8" r="4.4"/>
<circle cx="136.5" cy="27.6" r="4.4"/>
<circle cx="141.1" cy="28" r="4.4"/>
<circle cx="145.8" cy="28.8" r="4.4"/>
<circle cx="150.5" cy="30" r="4.4"/>
<circle cx="155.1" cy="32.3" r="4.4"/>
<circle cx="159.8" cy="34.7" r="4.4"/>
<circle cx="164.4" cy="37.3" r="4.4"/>
<circle cx="169.1" cy="39.7" r="4.4"/>
<circle cx="173.8" cy="40.5" r="4.4"/>
<circle cx="178.4" cy="40.7" r="4.4"/>
<circle cx="183.1" cy="40.8" r="4.4"/>
<circle cx="187.7" cy="40.4" r="4.4"/>
<circle cx="192.4" cy="39.5" r="4.4"/>
<circle cx="197.1" cy="39.2" r="4.4"/>
<circle cx="201.7" cy="39.3" r="4.4"/>
<circle cx="206.4" cy="39.5" r="4.4"/>
<circle cx="211" cy="40.1" r="4.4"/>
<circle cx="215.7" cy="41.6" r="4.4"/>
<circle cx="220.4" cy="43.3" r="4.4"/>
<circle cx="225" cy="45.5" r="4.4"/>
<circle cx="229.7" cy="47.8" r="4.4"/>
<circle cx="234.3" cy="49" r="4.4"/>
<circle cx="239" cy="49.6" r="4.4"/>
<circle cx="243.7" cy="50.2" r="4.4"/>
<circle cx="248.3" cy="50.6" r="4.4"/>
<circle cx="253" cy="51" r="4.4"/>
<circle cx="257.6" cy="52.5" r="4.4"/>
<circle cx="262.3" cy="55.2" r="4.4"/>
<circle cx="267" cy="57.6" r="4.4"/>
<circle cx="271.6" cy="59.7" r="4.4"/>
<circle cx="276.3" cy="61.5" r="4.4"/>
<circle cx="280.9" cy="62.7" r="4.4"/>
<circle cx="285.6" cy="63.5" r="4.4"/>
<circle cx="290.3" cy="64.5" r="4.4"/>
<circle cx="294.9" cy="66" r="4.4"/>
<circle cx="299.6" cy="68" r="4.4"/>
<circle cx="304.2" cy="70.6" r="4.4"/>
<circle cx="308.9" cy="74.4" r="4.4"/>
<circle cx="313.6" cy="78.5" r="4.4"/>
<circle cx="318.2" cy="82.5" r="4.4"/>
<circle cx="322.9" cy="86.6" r="4.4"/>
<circle cx="327.5" cy="91.4" r="4.4"/>
<circle cx="332.2" cy="97.2" r="4.4"/>
<circle cx="336.7" cy="103.2" r="4.4"/>
<circle cx="341.5" cy="109.9" r="4.4"/>
<circle cx="346" cy="117.6" r="4.4"/>
<circle cx="350.4" cy="127" r="4.4"/>
<circle cx="355.1" cy="139.9" r="4.4"/>
<circle cx="359.8" cy="155.6" r="4.4"/>
<circle cx="364.6" cy="173.2" r="4.4"/>
<circle cx="369.4" cy="194.5" r="4.4"/>
<circle cx="373.9" cy="217.6" r="4.4"/>
<circle cx="378.5" cy="242.4" r="4.4"/>
<circle cx="383.1" cy="269.5" r="4.4"/>
<circle cx="387.8" cy="299" r="4.4"/>
<circle cx="392.4" cy="327.5" r="4.4"/>
<circle cx="396.9" cy="350.3" r="4.4"/>
<circle cx="401.5" cy="367.4" r="4.4"/>
<circle cx="406.3" cy="380.7" r="4.4"/>
<circle cx="411.1" cy="390.3" r="4.4"/>
<circle cx="415.8" cy="396.3" r="4.4"/>
<circle cx="420.5" cy="399.7" r="4.4"/>
<circle cx="425.3" cy="402.1" r="4.4"/>
<circle cx="429.9" cy="403.2" r="4.4"/>
<circle cx="434.5" cy="403.9" r="4.4"/>
<circle cx="439.2" cy="404.4" r="4.4"/>
<circle cx="443.8" cy="404.8" r="4.4"/>
<circle cx="448.4" cy="405.1" r="4.4"/>
<circle cx="453" cy="405.1" r="4.4"/>
<circle cx="457.6" cy="405.1" r="4.4"/>
<circle cx="462.2" cy="405.2" r="4.4"/>
<circle cx="466.9" cy="405.2" r="4.4"/>
<circle cx="471.5" cy="405.2" r="4.4"/>
<circle cx="476.1" cy="405.2" r="4.4"/>
<circle cx="480.7" cy="405.2" r="4.4"/>
<circle cx="485.3" cy="405.2" r="4.4"/>
<circle cx="490" cy="405.3" r="4.4"/>
<circle cx="494.6" cy="405.3" r="4.4"/>
<circle cx="499.2" cy="405.3" r="4.4"/>
<circle cx="503.8" cy="405.3" r="4.4"/>
<circle cx="508.4" cy="405.3" r="4.4"/>
<circle cx="513.1" cy="405.3" r="4.4"/>
<circle cx="517.7" cy="405.3" r="4.4"/>
<circle cx="522.3" cy="405.4" r="4.4"/>
<circle cx="526.9" cy="405.4" r="4.4"/>
<circle cx="531.5" cy="405.4" r="4.4"/>
<circle cx="536.1" cy="405.4" r="4.4"/>
<circle cx="540.8" cy="405.4" r="4.4"/>
<circle cx="545.4" cy="405.4" r="4.4"/>
<circle cx="550" cy="405.4" r="4.4"/>
<circle cx="554.6" cy="405.4" r="4.4"/>
<circle cx="559.2" cy="405.4" r="4.4"/>
<circle cx="563.9" cy="405.4" r="4.4"/>
<circle cx="568.5" cy="405.4" r="4.4"/>
<circle cx="573.1" cy="405.4" r="4.4"/>
<circle cx="577.7" cy="405.4" r="4.4"/>
<circle cx="582.3" cy="405.4" r="4.4"/>
<circle cx="587" cy="405.4" r="4.4"/>
<circle cx="591.6" cy="405.4" r="4.4"/>
<circle cx="596.2" cy="405.4" r="4.4"/>
<circle cx="600.8" cy="405.4" r="4.4"/>
<circle cx="605.4" cy="405.4" r="4.4"/>
<circle cx="610" cy="405.4" r="4.4"/>
<circle cx="614.7" cy="405.4" r="4.4"/>
<circle cx="619.3" cy="405.4" r="4.4"/>
<circle cx="623.9" cy="405.4" r="4.4"/>
</g>
<g stroke="#000" stroke-width="2.3" fill="none" stroke-linecap="butt">
<path d="M88.5 0.4H646.8V421.5H88.5Z"/>
</g>
<path d="M88.5 421.5v6.5M97.8 421.5v3.8M107.1 421.5v3.8M116.4 421.5v3.8M125.7 421.5v3.8M135 421.5v6.5M144.3 421.5v3.8M153.6 421.5v3.8M162.9 421.5v3.8M172.2 421.5v3.8M181.5 421.5v6.5M190.8 421.5v3.8M200.1 421.5v3.8M209.4 421.5v3.8M218.7 421.5v3.8M228 421.5v6.5M237.3 421.5v3.8M246.6 421.5v3.8M255.9 421.5v3.8M265.2 421.5v3.8M274.5 421.5v6.5M283.8 421.5v3.8M293.1 421.5v3.8M302.4 421.5v3.8M311.7 421.5v3.8M321 421.5v6.5M330.3 421.5v3.8M339.6 421.5v3.8M348.9 421.5v3.8M358.2 421.5v3.8M367.5 421.5v6.5M376.8 421.5v3.8M386.1 421.5v3.8M395.4 421.5v3.8M404.7 421.5v3.8M414 421.5v6.5M423.3 421.5v3.8M432.6 421.5v3.8M441.9 421.5v3.8M451.2 421.5v3.8M460.5 421.5v6.5M469.8 421.5v3.8M479.1 421.5v3.8M488.4 421.5v3.8M497.7 421.5v3.8M507 421.5v6.5M516.3 421.5v3.8M525.6 421.5v3.8M534.9 421.5v3.8M544.2 421.5v3.8M553.5 421.5v6.5M562.8 421.5v3.8M572.1 421.5v3.8M581.4 421.5v3.8M590.7 421.5v3.8M600 421.5v6.5M609.3 421.5v3.8M618.6 421.5v3.8M627.9 421.5v3.8M637.2 421.5v3.8M646.5 421.5v6.5M88.5 421.3h-3.8M88.5 406.8h-6.5M88.5 392.3h-3.8M88.5 377.8h-3.8M88.5 363.3h-3.8M88.5 348.8h-3.8M88.5 334.3h-6.5M88.5 319.8h-3.8M88.5 305.3h-3.8M88.5 290.8h-3.8M88.5 276.3h-3.8M88.5 261.8h-6.5M88.5 247.3h-3.8M88.5 232.8h-3.8M88.5 218.3h-3.8M88.5 203.8h-3.8M88.5 189.3h-6.5M88.5 174.8h-3.8M88.5 160.3h-3.8M88.5 145.8h-3.8M88.5 131.3h-3.8M88.5 116.8h-6.5M88.5 102.3h-3.8M88.5 87.8h-3.8M88.5 73.3h-3.8M88.5 58.8h-3.8M88.5 44.3h-6.5M88.5 29.8h-3.8M88.5 15.3h-3.8M88.5 0.8h-3.8" stroke="#000" stroke-width="2.2" fill="none"/>
<g font-family="'Liberation Sans', Arial, sans-serif" font-size="24.5" fill="#000" stroke="#000" stroke-width="0.75">
<g text-anchor="middle">
<text x="88.5" y="450.8">-20</text>
<text x="135" y="450.8">-10</text>
<text x="181.5" y="450.8">0</text>
<text x="228" y="450.8">10</text>
<text x="274.5" y="450.8">20</text>
<text x="321" y="450.8">30</text>
<text x="367.5" y="450.8">40</text>
<text x="414" y="450.8">50</text>
<text x="460.5" y="450.8">60</text>
<text x="507" y="450.8">70</text>
<text x="553.5" y="450.8">80</text>
<text x="600" y="450.8">90</text>
<text x="646.5" y="450.8">100</text>
</g><g text-anchor="end">
<text x="78.5" y="414.3">0.0</text>
<text x="78.5" y="341.8">0.5</text>
<text x="78.5" y="269.3">1.0</text>
<text x="78.5" y="196.8">1.5</text>
<text x="78.5" y="124.3">2.0</text>
<text x="78.5" y="51.8">2.5</text>
</g></g>
<g font-family="'Liberation Sans', Arial, sans-serif" font-size="24.8" fill="#000" stroke="#000" stroke-width="0.6">
<text y="493.2"><tspan x="269.2" font-size="24.2" dx="0 2.3 1.0 0.2 -0.5 -0.2 0 0 0 0 -0.9">Temperature</tspan> <tspan x="413.2" font-size="30">(</tspan><tspan x="423.2" y="483.5" font-size="16">o</tspan><tspan x="432.2" y="493.2">C</tspan><tspan x="451.4" font-size="30">)</tspan></text>
<text transform="translate(18.8 312.4) rotate(-90) scale(1.027 1)" font-size="24">Storage</text>
<text transform="translate(18.8 219.9) rotate(-90) scale(0.985 1)" font-size="24">Modulus</text>
<text transform="translate(18.8 127.1) rotate(-90) scale(1.042 1)" font-size="24">(GPa)</text>
</g>
<g font-family="'Liberation Sans', Arial, sans-serif" font-size="21.4" fill="#000" stroke="#000" stroke-width="0.4">
<text x="508" y="116.1">PPC4</text>
<text x="508" y="144.5">PPC3</text>
<text x="508" y="172.9">PPC2</text>
<text x="508" y="201.3">PPC1</text>
<text x="508" y="229.7">PPC0.5</text>
<text x="508" y="258.1">PPC</text>
</g>
<g fill="#000"><circle cx="484.1" cy="108.7" r="5.4"/></g>
<g fill="#fff" stroke="#000" stroke-width="1.3" stroke-linejoin="round"><path d="M484 131.5L485.6 135.5L489.8 135.7L486.5 138.4L487.6 142.5L484 140.2L480.4 142.5L481.5 138.4L478.2 135.7L482.4 135.5Z"/></g>
<g fill="#000"><rect x="479.2" y="160.5" width="10.4" height="10.4"/></g>
<g fill="#fff" stroke="#000" stroke-width="1.4"><circle cx="484.15" cy="194.85" r="4.8"/></g>
<g fill="#000"><path d="M484.25 215.9L491 227.4L477.5 227.4Z"/></g>
<g fill="#fff" stroke="#000" stroke-width="1.3"><rect x="479.7" y="247.3" width="8.8" height="8.8"/></g>
</svg>
</body></html>
